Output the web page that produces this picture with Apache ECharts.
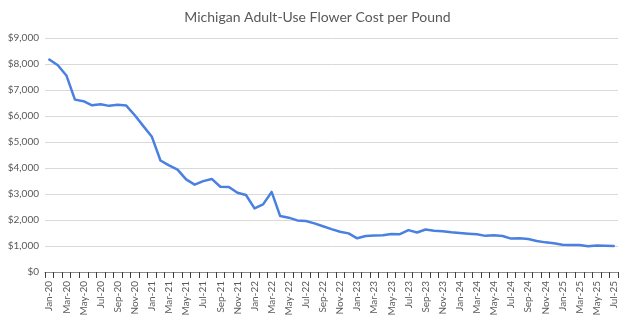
<!DOCTYPE html>
<html>
<head>
<meta charset="utf-8">
<script src="https://cdn.jsdelivr.net/npm/echarts@6/dist/echarts.min.js"></script>
<style>
  html, body { margin: 0; padding: 0; background: #fff; }
  #chart { width: 635px; height: 334px; }
</style>
</head>
<body>
<div id="chart"></div>
<script>
// Monthly categories, Jan-20 through Jul-25
const months = [
  'Jan-20','Feb-20','Mar-20','Apr-20','May-20','Jun-20','Jul-20','Aug-20','Sep-20','Oct-20','Nov-20','Dec-20',
  'Jan-21','Feb-21','Mar-21','Apr-21','May-21','Jun-21','Jul-21','Aug-21','Sep-21','Oct-21','Nov-21','Dec-21',
  'Jan-22','Feb-22','Mar-22','Apr-22','May-22','Jun-22','Jul-22','Aug-22','Sep-22','Oct-22','Nov-22','Dec-22',
  'Jan-23','Feb-23','Mar-23','Apr-23','May-23','Jun-23','Jul-23','Aug-23','Sep-23','Oct-23','Nov-23','Dec-23',
  'Jan-24','Feb-24','Mar-24','Apr-24','May-24','Jun-24','Jul-24','Aug-24','Sep-24','Oct-24','Nov-24','Dec-24',
  'Jan-25','Feb-25','Mar-25','Apr-25','May-25','Jun-25','Jul-25'
];

// Average adult-use flower cost per pound (USD)
const costPerPound = [
  8170, 7950, 7560, 6630, 6570, 6410, 6450, 6390, 6430, 6400, 6030, 5610,
  5200, 4290, 4100, 3940, 3560, 3360, 3495, 3580, 3280, 3270, 3050, 2960,
  2445, 2600, 3080, 2150, 2090, 1985, 1960, 1870, 1760, 1650, 1550, 1485,
  1295, 1385, 1400, 1410, 1465, 1455, 1612, 1520, 1635, 1590, 1570, 1525,
  1500, 1475, 1450, 1390, 1410, 1385, 1285, 1295, 1268, 1195, 1140, 1102,
  1052, 1042, 1040, 990, 1022, 1010, 1000
];

// Value axis ticks
const yMin = 0, yMax = 9000, yStep = 1000;

const chart = echarts.init(document.getElementById('chart'), null, { renderer: 'canvas' });

const fontFamily = 'Lato, "Open Sans", sans-serif';

chart.setOption({
  animation: false,
  backgroundColor: '#ffffff',
  title: {
    text: 'Michigan Adult-Use Flower Cost per Pound',
    left: 'center',
    top: 5,
    textStyle: { fontFamily, fontSize: 14, fontWeight: 'normal', color: '#595959' }
  },
  grid: { left: 45, right: 17, top: 38, bottom: 62 },
  xAxis: {
    type: 'category',
    data: months,
    boundaryGap: true,
    axisLine: { lineStyle: { color: '#8c8c8c', width: 1 } },
    axisTick: { show: true, interval: 0, length: 6, lineStyle: { color: '#404040' } },
    axisLabel: {
      interval: 1,
      rotate: 90,
      margin: 9,
      fontFamily,
      fontSize: 10,
      color: '#595959'
    },
    splitLine: { show: false }
  },
  yAxis: {
    type: 'value',
    min: yMin,
    max: yMax,
    interval: yStep,
    axisLine: { show: false },
    axisTick: { show: false },
    axisLabel: {
      margin: 6,
      fontFamily,
      fontSize: 10,
      color: '#595959',
      formatter: v => '$' + v.toLocaleString('en-US')
    },
    splitLine: { lineStyle: { color: '#d9d9d9', width: 1 } }
  },
  series: [{
    type: 'line',
    data: costPerPound,
    symbol: 'none',
    smooth: false,
    lineStyle: { color: '#4a80e0', width: 2.5, cap: 'round', join: 'round' }
  }]
});
</script>
</body>
</html>
